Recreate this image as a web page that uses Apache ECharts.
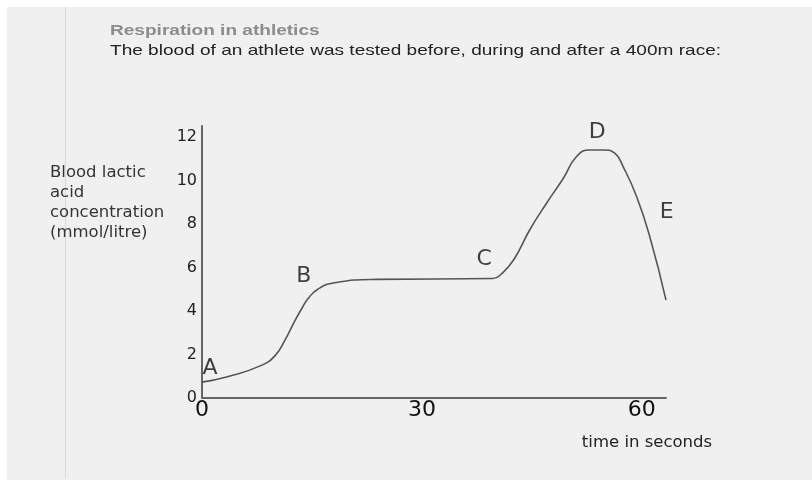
<!DOCTYPE html>
<html>
<head>
<meta charset="utf-8">
<script src="https://cdn.jsdelivr.net/npm/echarts@6/dist/echarts.min.js"></script>
<style>
  html, body { margin: 0; padding: 0; background: #fff; }
  #bg { position: absolute; left: 7px; top: 7px; width: 805px; height: 473px; background: #f0f0f0; }
  #rule { position: absolute; left: 65px; top: 7px; width: 1px; height: 471px; background: #d8d8d8; }
  #chart { position: absolute; left: 0; top: 0; width: 812px; height: 484px; }
</style>
</head>
<body>
<div id="bg"></div>
<div id="rule"></div>
<div id="chart"></div>
<script>
// time (s) vs blood lactic acid (mmol/litre)
var times = [0, 3.6, 8.1, 10, 11.3, 12.7, 13.6, 14.5, 15.8, 18.1, 23.8, 39.7, 40.9, 42.5, 44.7, 47, 49.3, 51.1, 52.9, 54.7, 56.3, 57.5, 59.3, 61.1, 63.3];
var lactic = [0.73, 0.99, 1.5, 1.96, 2.65, 3.57, 4.1, 4.58, 5.0, 5.3, 5.45, 5.49, 5.72, 6.34, 7.72, 8.95, 10.1, 11.1, 11.4, 11.4, 11.25, 10.6, 9.25, 7.4, 4.5];

// letters marking the stages
var stageNames = ['A', 'B', 'C', 'D', 'E'];
var stageTimes = [1.1, 13.9, 38.5, 53.9, 63.4];
var stageValues = [1.36, 5.6, 6.38, 12.19, 8.55];

var titleText = 'Respiration in athletics';
var subText = 'The blood of an athlete was tested before, during and after a 400m race:';
var yName = ['Blood lactic', 'acid', 'concentration', '(mmol/litre)'];
var xName = 'time in seconds';

var chart = echarts.init(document.getElementById('chart'));

var lineData = times.map(function(t, i) { return [t, lactic[i]]; });
var stageData = stageNames.map(function(n, i) {
    return { name: n, value: [stageTimes[i], stageValues[i]] };
});

var graphics = [
    { type: 'text', x: 110, y: 31, scaleX: 1.27, silent: true,
      style: { text: titleText, fill: '#8c8c8c', font: 'bold 15px "Liberation Sans", Arial, sans-serif', textVerticalAlign: 'middle' } },
    { type: 'text', x: 110, y: 51, scaleX: 1.27, silent: true,
      style: { text: subText, fill: '#222', font: '15px "Liberation Sans", Arial, sans-serif', textVerticalAlign: 'middle' } },
    { type: 'text', x: 647, y: 443, silent: true,
      style: { text: xName, fill: '#222', font: '16.5px "DejaVu Sans", sans-serif', textAlign: 'center', textVerticalAlign: 'middle' } }
];
yName.forEach(function(line, i) {
    graphics.push({ type: 'text', x: 50, y: 173 + i * 20, silent: true,
        style: { text: line, fill: '#333', font: '16.5px "DejaVu Sans", sans-serif', textVerticalAlign: 'middle' } });
});

chart.setOption({
    animation: false,
    backgroundColor: 'transparent',
    grid: { left: 202, right: 146, top: 126, bottom: 86 },
    graphic: graphics,
    xAxis: {
        type: 'value', min: 0, max: 63.3, interval: 30,
        splitLine: { show: false },
        axisTick: { show: false },
        axisLine: { lineStyle: { color: '#666', width: 2 } },
        axisLabel: { showMaxLabel: false, margin: 1, color: '#111', fontSize: 22, fontFamily: 'DejaVu Sans' }
    },
    yAxis: {
        type: 'value', min: 0, max: 12.5, interval: 2,
        splitLine: { show: false },
        axisTick: { show: false },
        axisLine: { show: true, lineStyle: { color: '#666', width: 2 } },
        axisLabel: { showMaxLabel: false, margin: 5, padding: [0, 0, 8, 0], color: '#222', fontSize: 16, fontFamily: 'DejaVu Sans' }
    },
    series: [{
        type: 'line',
        data: lineData,
        smooth: 0.5,
        showSymbol: false,
        lineStyle: { color: '#555', width: 1.6 }
    }, {
        type: 'scatter',
        data: stageData,
        symbolSize: 0,
        clip: false,
        label: {
            show: true, position: 'inside', formatter: '{b}',
            color: '#111', fontSize: 22, fontFamily: 'DejaVu Sans'
        }
    }]
});
</script>
</body>
</html>
